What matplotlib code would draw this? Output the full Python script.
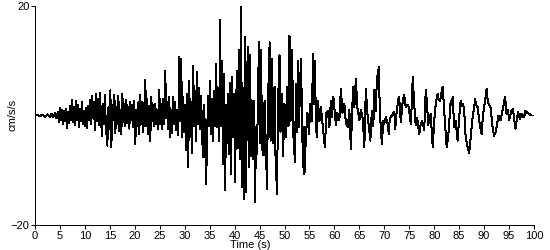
import matplotlib
matplotlib.use("Agg")
import matplotlib.pyplot as plt

# waktu (s) dan percepatan (cm/s/s)
time_s = [
    0, 0.5, 1, 1.5, 2, 2.5, 3, 3.3, 3.6, 4, 4.3, 4.6,
    4.8, 5.0, 5.2, 5.4, 5.6, 5.8, 6.0, 6.2, 6.4, 6.6, 6.8, 7.0, 7.2, 7.4, 7.6, 7.8,
    8.0, 8.2, 8.4, 8.6, 8.8, 9.0, 9.2, 9.4, 9.6, 9.8, 10.0, 10.2, 10.4, 10.6, 10.8, 11.0,
    11.2, 11.4, 11.6, 11.8, 12.0, 12.2, 12.4, 12.6, 12.8, 13.0, 13.2, 13.4, 13.6, 13.8,
    14.0, 14.2, 14.5, 14.7, 14.9, 15.1, 15.3, 15.5, 15.7, 15.9, 16.1, 16.3, 16.5, 16.7,
    16.9, 17.1, 17.3, 17.5, 17.7, 17.9, 18.1, 18.3, 18.5, 18.7, 18.9, 19.1, 19.3, 19.5,
    19.7, 19.9, 20.1, 20.3, 20.5, 20.7,
    20.9, 21.1, 21.3, 21.5, 21.7, 21.9, 22.1, 22.3, 22.5, 22.7, 22.9, 23.1, 23.3, 23.5,
    23.7, 23.9, 24.1, 24.3, 24.5, 24.7, 24.9, 25.1, 25.3, 25.5, 25.7, 25.9, 26.1, 26.3,
    26.5, 26.7, 26.9, 27.1, 27.3, 27.5, 27.7, 27.9, 28.1, 28.3, 28.5, 28.7, 28.9, 29.1,
    29.3, 29.5, 29.7, 29.9,
    30.1, 30.3, 30.5, 30.7, 30.9, 31.1, 31.3, 31.5, 31.7, 31.9, 32.1, 32.3, 32.5, 32.7,
    32.9, 33.1, 33.3, 33.5, 33.7, 33.9, 34.1, 34.3, 34.5, 34.7, 34.9, 35.1, 35.3, 35.5,
    35.7, 35.9, 36.1, 36.3, 36.5, 36.7, 36.9, 37.1,
    37.3, 37.5, 37.7, 37.9, 38.1, 38.3, 38.5, 38.7, 38.9, 39.1, 39.3, 39.5, 39.7, 39.9,
    40.1, 40.3, 40.5, 40.7, 40.9, 41.1, 41.3, 41.5, 41.7, 41.9, 42.1, 42.3, 42.5, 42.7,
    42.9, 43.1, 43.3, 43.5, 43.7, 43.9, 44.1, 44.3, 44.5, 44.7, 44.9, 45.1, 45.3, 45.5,
    45.8, 46.0, 46.2, 46.5, 46.7, 46.9, 47.0, 47.2, 47.5, 47.7, 48.0, 48.2, 48.5, 48.7,
    49.0, 49.2, 49.5, 49.7, 50.0, 50.3, 50.5, 50.8, 51.0, 51.2, 51.5, 51.8, 52.1, 52.3,
    52.5, 52.7, 52.9, 53.1, 53.3, 53.5, 53.7, 53.9, 54.0, 54.3, 54.6, 54.9, 55.2, 55.5,
    55.7, 55.9, 56.1, 56.3, 56.5, 56.7, 57.0, 57.3, 57.6, 58.1, 58.4, 58.7, 59.0, 59.3,
    59.5, 59.8, 60.1, 60.3, 60.6, 61.0, 61.3, 61.6, 62.0, 62.3, 62.7, 63.0, 63.3, 63.6,
    63.8, 64.0, 64.3, 64.6, 65.0, 65.3, 65.7, 66.0, 66.3, 66.6, 66.9, 67.2, 67.5, 67.8,
    68.0, 68.3, 68.5, 68.9, 69.1, 69.5, 69.8, 70.0, 70.3, 70.6, 70.9, 71.1, 71.3, 71.7,
    72.0, 72.2, 72.5, 72.9, 73.1, 73.3, 73.7, 74.0, 74.3, 74.6, 74.9, 75.3, 75.5, 75.7,
    76.0, 76.3, 76.6, 77.0, 77.3, 77.6, 78.0, 78.3, 78.5, 78.8, 79.0, 79.3, 79.7, 80.0,
    80.3, 80.7, 80.9, 81.2, 81.4, 81.7, 82.0, 82.2, 82.5, 82.8, 83.0, 83.3, 83.5, 83.7,
    84.0, 84.3, 84.7, 85.0, 85.3, 85.5, 85.8, 86.0, 86.3, 86.7, 87.0, 87.3, 87.7, 88.0,
    88.2, 88.4, 88.7, 89.1, 89.5, 89.8, 90.2, 90.5, 90.7, 90.9, 91.3, 91.7, 92.0, 92.3,
    92.5, 92.9, 93.3, 93.8, 94.2, 94.5, 94.8, 95.0, 95.5, 95.8, 96.0, 96.3, 96.6, 96.8,
    97.2, 97.5, 97.8, 98.0, 98.3, 98.6, 99.0, 99.5, 100.0,
]

accel = [
    0, 0.1, -0.1, 0.15, -0.2, 0.2, -0.3, 0.3, -0.3, 0.4, -0.5, 0.6,
    -1.2, 1.3, -0.8, 1.0, -1.5, 0.8, -1.0, 1.2, -2.3, 0.6, -1.4, 1.8, -0.8, 2.9, -1.2, 1.6,
    -1.8, 2.6, -0.9, 2.0, -2.2, 1.2, -1.0, 2.4, -1.6, 0.8, -1.9, 1.4, -2.3, 1.8, -0.8, 2.8,
    -1.5, 3.6, -0.5, 2.4, -2.6, 4.0, -1.0, 3.0, -1.8, 4.2, 0.5, -3.7, 2.2, -1.5,
    3.8, -2.0, -5.5, 1.5, -2.5, 4.6, -5.8, 2.0, -0.8, 3.8, -3.2, 1.5, -1.6, 3.6,
    -2.8, 1.0, -3.4, 4.0, -1.2, 2.2, -2.0, 2.8, -1.4, 1.6, -2.4, 2.5, -0.9, 1.9,
    -2.2, 2.6, -5.2, 1.0, -2.0, 2.4,
    -3.4, 3.7, -1.5, 2.5, -3.0, 1.2, 6.5, -2.0, 3.0, -3.4, 1.8, -4.6, 3.4, -1.0,
    2.0, -2.0, 2.1, -1.5, 1.0, -2.4, 4.6, -1.6, 2.2, -2.4, 3.0, -1.5, 8.2, -0.5,
    2.5, -2.4, 3.4, -4.0, 1.0, -3.2, 3.4, -1.5, 2.5, -2.7, 1.0, -3.5, 10.7, -1.0,
    10.4, -4.0, 3.4, -3.0,
    2.0, -6.4, 4.0, -9.5, 6.4, -4.0, 2.5, -6.8, 9.1, -2.0, 4.5, -4.6, 8.0, -1.5,
    5.0, -2.5, 3.5, -4.0, -7.6, 2.0, -5.0, -12.5, -3.0, 3.5, -2.0, 6.4, -3.4, 3.0,
    -4.6, 4.5, -2.0, 9.5, -2.1, 5.0, -4.6, 17.4,
    -2.0, 10.0, -8.8, 7.6, -13.7, 2.0, -5.0, 4.0, -7.0, 6.0, -10.7, 7.0, -4.0, 4.0,
    -12.2, 2.5, 8.2, -6.0, 11.9, -8.0, 19.8, -13.1, 5.0, -15.2, 14.3, -14.0, 8.0, 12.5,
    -9.5, 11.0, -7.5, 2.7, -8.0, 2.7, -15.9, -2.0, -7.0, 5.0, 13.4, -5.0, 11.9, -6.0,
    -7.3, 2.7, -4.0, -13.4, 5.8, -3.0, 13.4, -4.6, 10.4, -5.0, 5.2, -7.5, -14.3, 2.1,
    11.0, -3.0, 4.0, -7.5, 2.1, -4.0, 5.2, -2.0, 14.6, -1.0, 11.9, -4.0, -8.5, 5.8,
    -3.0, 10.0, -2.1, 5.0, 10.3, 0.0, -9.5, -2.0, -10.7, -3.4, 0.5, -3.4, 2.1, -1.0,
    11.3, 2.1, 10.0, -2.0, -4.0, 2.7, -1.0, 1.5, -1.2, -5.8, 0.5, 0.9, -2.1, 2.7,
    -0.3, 3.4, 0.3, -1.8, 0.5, -0.8, 4.9, 0.5, 2.1, -1.5, -2.1, 1.0, -6.1, 2.0,
    5.2, 1.5, 6.7, 1.5, -0.9, 1.0, -0.6, -5.8, 4.9, 0.5, -2.1, -4.6, 0.9, -2.0,
    4.6, 0.9, 6.4, 8.8, 0.9, -5.2, -1.0, -1.5, -0.3, -1.2, -3.4, -0.5, -0.3, 0.3,
    0.6, -2.4, 1.0, 3.4, 2.0, -1.2, 2.7, 3.7, 1.5, 2.0, 1.5, -1.5, 2.0, 7.0,
    2.0, -1.8, -0.5, -3.4, -1.5, -1.0, -2.7, 4.6, 3.0, -1.8, -0.5, 0.3, -5.8, -1.0,
    2.1, 4.0, 3.0, 2.7, 4.0, 5.2, 0.9, -2.0, -5.8, -4.0, -1.5, 2.7, 2.0, 3.4,
    -2.1, -1.0, -4.6, -0.3, 2.7, 1.8, 2.1, 1.0, -4.0, -5.8, -6.9, -4.0, -0.3, 1.5,
    3.0, 2.0, 1.5, -1.5, -3.4, 0.3, 2.7, 4.9, 3.0, 2.1, 1.5, -2.1, -3.7, -3.0,
    -2.1, 0.0, -0.9, 1.5, 3.4, 0.3, 1.0, -0.9, 0.9, 1.2, -0.5, -2.4, -0.5, 0.6,
    -0.6, 0.3, -0.3, -0.3, 0.9, 0.5, 0.3, 0.0, 0.0,
]

x_ticks = list(range(0, 101, 5))
y_ticks = [-20, 20]

plt.rcParams["font.family"] = ["Liberation Sans", "DejaVu Sans"]
plt.rcParams["font.size"] = 8

fig = plt.figure(figsize=(5.5, 2.5), dpi=100)
ax = fig.add_axes([35 / 550, 1 - 225 / 250, 499 / 550, 219 / 250])

ax.plot(time_s, accel, color="black", linewidth=0.72, antialiased=False)

ax.set_xlim(0, 100)
ax.set_ylim(-20, 20)
ax.set_xticks(x_ticks)
ax.set_yticks(y_ticks)
ax.tick_params(direction="out", length=3, width=0.72, pad=1, labelsize=8)

for side in ["top", "right"]:
    ax.spines[side].set_visible(False)
for side in ["left", "bottom"]:
    ax.spines[side].set_linewidth(0.72)

fig.text(12 / 550, 1 - 115 / 250, "cm/s/s", rotation=90, ha="center", va="center", fontsize=8)
fig.text(250 / 550, 1 - 245 / 250, "Time (s)", ha="center", va="center", fontsize=8)

fig.savefig("out.png", dpi=100)
